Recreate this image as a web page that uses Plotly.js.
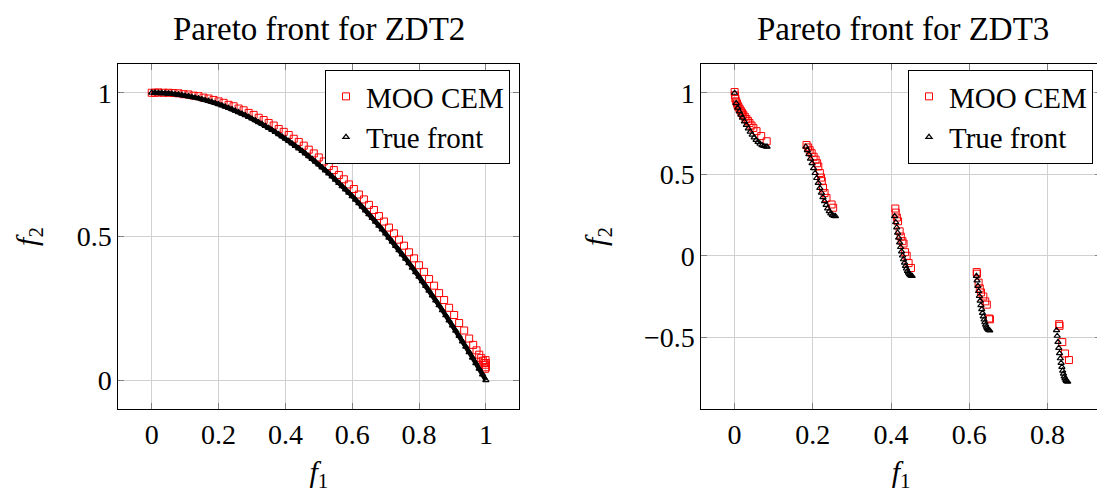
<!DOCTYPE html>
<html>
<head>
<meta charset="utf-8">
<script src="https://cdn.plot.ly/plotly-3.0.1.min.js"></script>
<style>
html, body { margin: 0; padding: 0; overflow: hidden; background: #fff; }
#chart { width: 1110px; height: 493px; }
</style>
</head>
<body>
<div id="chart"></div>
<script>
// ZDT2: points found by MOO CEM
const zdt2MooF1 = [0.000, 0.010, 0.020, 0.035, 0.050, 0.065, 0.080, 0.095, 0.110, 0.125,
  0.140, 0.155, 0.170, 0.185, 0.200, 0.215, 0.230, 0.245, 0.260, 0.275,
  0.290, 0.305, 0.320, 0.335, 0.350, 0.365, 0.380, 0.395, 0.410, 0.425,
  0.440, 0.455, 0.470, 0.485, 0.500, 0.515, 0.530, 0.545, 0.560, 0.575,
  0.590, 0.605, 0.620, 0.635, 0.650, 0.665, 0.680, 0.695, 0.710, 0.725,
  0.740, 0.755, 0.770, 0.785, 0.800, 0.815, 0.830, 0.845, 0.860, 0.875,
  0.890, 0.905, 0.920, 0.935, 0.950, 0.962, 0.972, 0.980, 0.986, 0.991,
  0.995, 0.998, 0.999, 1.000, 1.000, 0.998];
const zdt2MooF2 = [1.000, 1.000, 1.001, 1.000, 1.000, 0.999, 0.998, 0.995, 0.994, 0.990,
  0.988, 0.983, 0.980, 0.975, 0.970, 0.965, 0.958, 0.953, 0.945, 0.939,
  0.930, 0.923, 0.913, 0.905, 0.895, 0.886, 0.874, 0.864, 0.853, 0.840,
  0.829, 0.816, 0.802, 0.789, 0.775, 0.761, 0.745, 0.731, 0.714, 0.699,
  0.681, 0.665, 0.646, 0.629, 0.610, 0.592, 0.571, 0.552, 0.531, 0.511,
  0.489, 0.468, 0.445, 0.424, 0.400, 0.377, 0.352, 0.329, 0.303, 0.279,
  0.252, 0.227, 0.199, 0.173, 0.145, 0.123, 0.104, 0.089, 0.077, 0.068,
  0.060, 0.054, 0.070, 0.060, 0.045, 0.040];

// ZDT2: true Pareto front
const zdt2TrueF1 = [0.00, 0.01, 0.02, 0.03, 0.04, 0.05, 0.06, 0.07, 0.08, 0.09,
  0.10, 0.11, 0.12, 0.13, 0.14, 0.15, 0.16, 0.17, 0.18, 0.19,
  0.20, 0.21, 0.22, 0.23, 0.24, 0.25, 0.26, 0.27, 0.28, 0.29,
  0.30, 0.31, 0.32, 0.33, 0.34, 0.35, 0.36, 0.37, 0.38, 0.39,
  0.40, 0.41, 0.42, 0.43, 0.44, 0.45, 0.46, 0.47, 0.48, 0.49,
  0.50, 0.51, 0.52, 0.53, 0.54, 0.55, 0.56, 0.57, 0.58, 0.59,
  0.60, 0.61, 0.62, 0.63, 0.64, 0.65, 0.66, 0.67, 0.68, 0.69,
  0.70, 0.71, 0.72, 0.73, 0.74, 0.75, 0.76, 0.77, 0.78, 0.79,
  0.80, 0.81, 0.82, 0.83, 0.84, 0.85, 0.86, 0.87, 0.88, 0.89,
  0.90, 0.91, 0.92, 0.93, 0.94, 0.95, 0.96, 0.97, 0.98, 0.99, 1.00];
const zdt2TrueF2 = [1.0000, 0.9999, 0.9996, 0.9991, 0.9984, 0.9975, 0.9964, 0.9951, 0.9936, 0.9919,
  0.9900, 0.9879, 0.9856, 0.9831, 0.9804, 0.9775, 0.9744, 0.9711, 0.9676, 0.9639,
  0.9600, 0.9559, 0.9516, 0.9471, 0.9424, 0.9375, 0.9324, 0.9271, 0.9216, 0.9159,
  0.9100, 0.9039, 0.8976, 0.8911, 0.8844, 0.8775, 0.8704, 0.8631, 0.8556, 0.8479,
  0.8400, 0.8319, 0.8236, 0.8151, 0.8064, 0.7975, 0.7884, 0.7791, 0.7696, 0.7599,
  0.7500, 0.7399, 0.7296, 0.7191, 0.7084, 0.6975, 0.6864, 0.6751, 0.6636, 0.6519,
  0.6400, 0.6279, 0.6156, 0.6031, 0.5904, 0.5775, 0.5644, 0.5511, 0.5376, 0.5239,
  0.5100, 0.4959, 0.4816, 0.4671, 0.4524, 0.4375, 0.4224, 0.4071, 0.3916, 0.3759,
  0.3600, 0.3439, 0.3276, 0.3111, 0.2944, 0.2775, 0.2604, 0.2431, 0.2256, 0.2079,
  0.1900, 0.1719, 0.1536, 0.1351, 0.1164, 0.0975, 0.0784, 0.0591, 0.0396, 0.0199, 0.0000];

// ZDT3: points found by MOO CEM
const zdt3MooF1 = [0.000, 0.001, 0.002, 0.004, 0.006, 0.008, 0.010, 0.013, 0.016, 0.019,
  0.022, 0.026, 0.030, 0.034, 0.038, 0.043, 0.048, 0.056, 0.068, 0.082,
  0.184, 0.188, 0.192, 0.197, 0.202, 0.207, 0.211, 0.214, 0.218, 0.221,
  0.223, 0.226, 0.230, 0.235, 0.248, 0.252,
  0.411, 0.412, 0.415, 0.418, 0.422, 0.425, 0.429, 0.432, 0.436, 0.440, 0.445, 0.451,
  0.619, 0.620, 0.624, 0.627, 0.630, 0.636, 0.641, 0.645, 0.651, 0.653,
  0.830, 0.831, 0.838, 0.845, 0.855];
const zdt3MooF2 = [1.005, 0.985, 0.965, 0.948, 0.935, 0.922, 0.912, 0.900, 0.888, 0.877,
  0.866, 0.853, 0.840, 0.828, 0.815, 0.800, 0.785, 0.765, 0.735, 0.703,
  0.680, 0.665, 0.648, 0.630, 0.608, 0.590, 0.568, 0.548, 0.508, 0.480,
  0.458, 0.418, 0.385, 0.355, 0.315, 0.295,
  0.290, 0.265, 0.235, 0.212, 0.150, 0.118, 0.090, 0.075, 0.022, 0.000, -0.045, -0.075,
  -0.100, -0.110, -0.165, -0.200, -0.225, -0.250, -0.280, -0.300, -0.385, -0.390,
  -0.420, -0.430, -0.530, -0.600, -0.640];

// ZDT3: true Pareto front (five disconnected pieces)
const zdt3TrueF1 = [0.000, 0.004, 0.008, 0.012, 0.016, 0.020, 0.025, 0.030, 0.035, 0.040,
  0.045, 0.050, 0.055, 0.060, 0.065, 0.070, 0.075, 0.080, 0.083,
  0.1822, 0.186, 0.190, 0.194, 0.198, 0.202, 0.206, 0.210, 0.214, 0.218,
  0.222, 0.226, 0.230, 0.234, 0.238, 0.242, 0.246, 0.250, 0.254, 0.2578,
  0.4093, 0.412, 0.4145, 0.417, 0.4195, 0.422, 0.4245, 0.427, 0.4295, 0.432,
  0.4345, 0.437, 0.4395, 0.442, 0.4445, 0.447, 0.4495, 0.452, 0.4539,
  0.6184, 0.620, 0.622, 0.624, 0.626, 0.628, 0.630, 0.632, 0.634, 0.636,
  0.638, 0.640, 0.642, 0.644, 0.646, 0.648, 0.650, 0.6525,
  0.8233, 0.825, 0.827, 0.829, 0.831, 0.833, 0.835, 0.837, 0.839, 0.841,
  0.843, 0.845, 0.847, 0.849, 0.8518];
const zdt3TrueF2 = [1.0000, 0.9363, 0.9086, 0.8860, 0.8658, 0.8468, 0.8242, 0.8025, 0.7817, 0.7620,
  0.7434, 0.7264, 0.7112, 0.6980, 0.6871, 0.6788, 0.6731, 0.6701, 0.6695,
  0.6698, 0.6479, 0.6228, 0.5959, 0.5675, 0.5379, 0.5075, 0.4768, 0.4463, 0.4163,
  0.3873, 0.3598, 0.3343, 0.3112, 0.2908, 0.2737, 0.2599, 0.2500, 0.2440, 0.2422,
  0.2423, 0.2064, 0.1738, 0.1419, 0.1110, 0.0814, 0.0531, 0.0262, 0.0011, -0.0220,
  -0.0432, -0.0622, -0.0787, -0.0929, -0.1046, -0.1136, -0.1199, -0.1234, -0.1242,
  -0.1244, -0.1518, -0.1851, -0.2171, -0.2476, -0.2763, -0.3034, -0.3286, -0.3518, -0.3730,
  -0.3920, -0.4087, -0.4231, -0.4351, -0.4446, -0.4517, -0.4562, -0.4583,
  -0.4577, -0.4917, -0.5297, -0.5656, -0.5989, -0.6299, -0.6578, -0.6831, -0.7054, -0.7247,
  -0.7409, -0.7538, -0.7636, -0.7700, -0.7733];

const leftTicks = [0, 0.2, 0.4, 0.6, 0.8, 1];
const leftYTicks = [0, 0.5, 1];
const rightTicks = [0, 0.2, 0.4, 0.6, 0.8];
const rightYTicks = [-0.5, 0, 0.5, 1];

const W = 1110, H = 493;
const FONT = 'Liberation Serif, Times New Roman, serif';
const px = v => v / W;
const py = v => (H - v) / H;

const mooMarker = { symbol: 'square-open', size: 7, color: '#ff0000', line: { width: 1 } };
const trueMarker = { symbol: 'triangle-up-open', size: 5.5, color: '#000000', line: { width: 1.2 } };

const traces = [
  { x: zdt2MooF1, y: zdt2MooF2, type: 'scatter', mode: 'markers', name: 'MOO CEM',
    marker: mooMarker, xaxis: 'x', yaxis: 'y', legend: 'legend' },
  { x: zdt2TrueF1, y: zdt2TrueF2, type: 'scatter', mode: 'lines', showlegend: false,
    line: { color: '#000000', width: 4.5 }, xaxis: 'x', yaxis: 'y', hoverinfo: 'skip' },
  { x: zdt2TrueF1, y: zdt2TrueF2, type: 'scatter', mode: 'markers', name: 'True front',
    marker: trueMarker, xaxis: 'x', yaxis: 'y', legend: 'legend' },
  { x: zdt3MooF1, y: zdt3MooF2, type: 'scatter', mode: 'markers', name: 'MOO CEM',
    marker: mooMarker, xaxis: 'x2', yaxis: 'y2', legend: 'legend2' },
  { x: zdt3TrueF1, y: zdt3TrueF2, type: 'scatter', mode: 'markers', name: 'True front',
    marker: trueMarker, xaxis: 'x2', yaxis: 'y2', legend: 'legend2' }
];

const axisBase = {
  showline: true, linecolor: '#000000', linewidth: 1, mirror: 'ticks',
  ticks: 'inside', ticklen: 6, tickcolor: '#808080', tickwidth: 1,
  showgrid: true, gridcolor: '#d0d0d0', gridwidth: 1, zeroline: false,
  tickfont: { family: FONT, size: 28, color: '#000' }
};

const legendBase = {
  xanchor: 'right', yanchor: 'top', xref: 'paper', yref: 'paper',
  bgcolor: '#ffffff', bordercolor: '#000000', borderwidth: 1,
  font: { family: FONT, size: 29, color: '#000' }, tracegroupgap: 0
};

const axisTitleFont = { family: FONT, size: 30, color: '#000' };

const layout = {
  width: W, height: H,
  margin: { l: 0, r: 0, t: 0, b: 0 },
  paper_bgcolor: '#ffffff', plot_bgcolor: '#ffffff',
  font: { family: FONT, color: '#000' },
  xaxis: Object.assign({}, axisBase, {
    domain: [px(118.3), px(519.3)], range: [-0.1, 1.1], anchor: 'y',
    tickvals: leftTicks, ticktext: leftTicks.map(String),
    title: { text: '<i>f</i><sub>1</sub>', font: axisTitleFont, standoff: 12 }
  }),
  yaxis: Object.assign({}, axisBase, {
    domain: [84 / H, 429 / H], range: [-0.1, 1.1], anchor: 'x',
    tickvals: leftYTicks, ticktext: leftYTicks.map(String),
    title: { text: '<i>f</i><sub>2</sub>', font: axisTitleFont, standoff: 30 }
  }),
  xaxis2: Object.assign({}, axisBase, {
    domain: [px(701.3), px(1101)], range: [-0.0852, 0.937], anchor: 'y2',
    tickvals: rightTicks, ticktext: rightTicks.map(String),
    title: { text: '<i>f</i><sub>1</sub>', font: axisTitleFont, standoff: 12 }
  }),
  yaxis2: Object.assign({}, axisBase, {
    domain: [84 / H, 429 / H], range: [-0.9406, 1.1773], anchor: 'x2',
    tickvals: rightYTicks, ticktext: rightYTicks.map(v => v < 0 ? '\u2212' + Math.abs(v) : String(v)),
    title: { text: '<i>f</i><sub>2</sub>', font: axisTitleFont, standoff: 28 }
  }),
  legend: Object.assign({}, legendBase, { x: px(510), y: py(70) }),
  legend2: Object.assign({}, legendBase, { x: px(1093), y: py(70) }),
  annotations: [
    { text: 'Pareto front for ZDT2', xref: 'paper', yref: 'paper', x: px(318.8), y: py(29),
      xanchor: 'center', yanchor: 'middle', showarrow: false, font: { family: FONT, size: 33 } },
    { text: 'Pareto front for ZDT3', xref: 'paper', yref: 'paper', x: px(903), y: py(29),
      xanchor: 'center', yanchor: 'middle', showarrow: false, font: { family: FONT, size: 33 } }
  ],
  showlegend: true
};

Plotly.newPlot('chart', traces, layout, { displayModeBar: false, staticPlot: true });
</script>
</body>
</html>
